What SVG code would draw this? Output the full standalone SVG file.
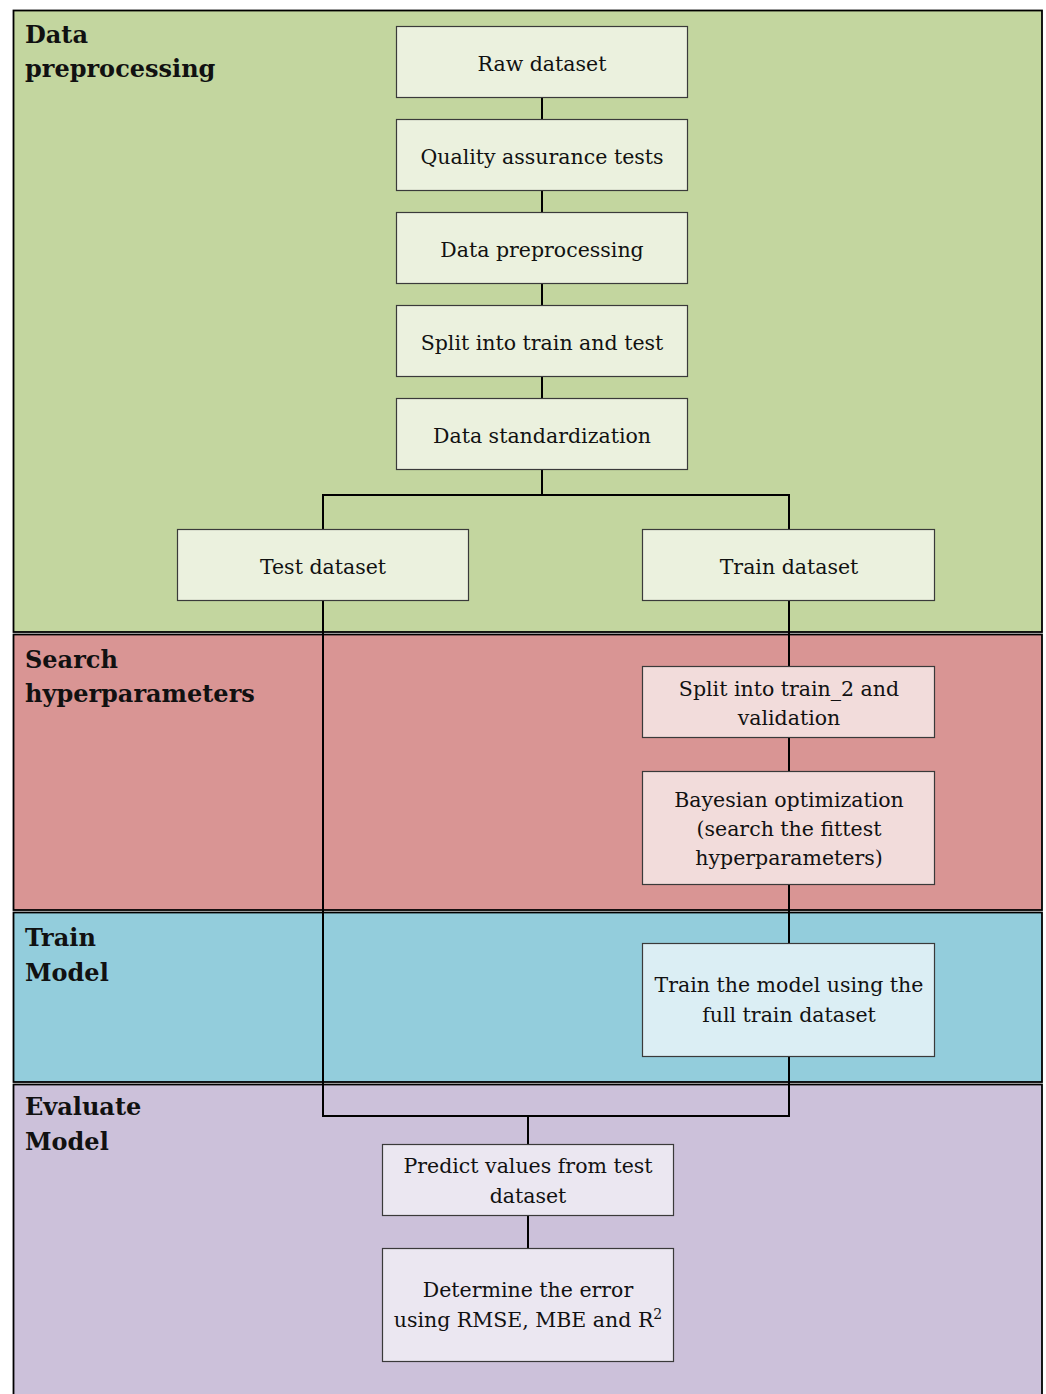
<svg xmlns="http://www.w3.org/2000/svg" width="1046" height="1394" viewBox="0 0 1046 1394">
<style>
.band{stroke:#000;stroke-width:1.8}
.box{stroke:#3a3a3a;stroke-width:1.2}
.t{font-family:"DejaVu Serif","Liberation Serif",serif;font-size:20.5px;fill:#111;text-anchor:middle}
.h{font-family:"DejaVu Serif","Liberation Serif",serif;font-size:24px;font-weight:bold;fill:#111}
.c{stroke:#000;stroke-width:2;fill:none}
</style>
<rect width="1046" height="1394" fill="#fff"/>
<g id="band-data-preprocessing">
<rect class="band" x="13.5" y="10.5" width="1028.5" height="621.5" fill="#c3d69f"/>
<text class="h" x="25" y="43">Data</text>
<text class="h" x="25" y="77">preprocessing</text>
</g>
<g id="band-search-hyperparameters">
<rect class="band" x="13.5" y="634.5" width="1028.5" height="275.5" fill="#d99594"/>
<text class="h" x="25" y="668">Search</text>
<text class="h" x="25" y="702">hyperparameters</text>
</g>
<g id="band-train-model">
<rect class="band" x="13.5" y="912.5" width="1028.5" height="169.5" fill="#93cddc"/>
<text class="h" x="25" y="946">Train</text>
<text class="h" x="25" y="981">Model</text>
</g>
<g id="band-evaluate-model">
<rect class="band" x="13.5" y="1084.5" width="1028.5" height="320" fill="#ccc1da"/>
<text class="h" x="25" y="1115">Evaluate</text>
<text class="h" x="25" y="1150">Model</text>
</g>
<g id="connectors">
<line class="c" x1="542" y1="97" x2="542" y2="119"/>
<line class="c" x1="542" y1="190" x2="542" y2="212"/>
<line class="c" x1="542" y1="283" x2="542" y2="305"/>
<line class="c" x1="542" y1="376" x2="542" y2="398"/>
<polyline class="c" points="542,469 542,495 323,495 323,529"/>
<polyline class="c" points="542,495 789,495 789,529"/>
<line class="c" x1="789" y1="600" x2="789" y2="666"/>
<line class="c" x1="789" y1="737" x2="789" y2="771"/>
<line class="c" x1="789" y1="884" x2="789" y2="943"/>
<polyline class="c" points="323,600 323,1116 789,1116 789,1056"/>
<line class="c" x1="528" y1="1116" x2="528" y2="1144"/>
<line class="c" x1="528" y1="1215" x2="528" y2="1248"/>
</g>
<g id="node-raw-dataset">
<rect class="box" x="396.5" y="26.5" width="291" height="71" fill="#ebf1de"/>
<text class="t" x="542" y="71">Raw dataset</text>
</g>
<g id="node-quality">
<rect class="box" x="396.5" y="119.5" width="291" height="71" fill="#ebf1de"/>
<text class="t" x="542" y="164">Quality assurance tests</text>
</g>
<g id="node-data-preprocessing">
<rect class="box" x="396.5" y="212.5" width="291" height="71" fill="#ebf1de"/>
<text class="t" x="542" y="257">Data preprocessing</text>
</g>
<g id="node-split">
<rect class="box" x="396.5" y="305.5" width="291" height="71" fill="#ebf1de"/>
<text class="t" x="542" y="350">Split into train and test</text>
</g>
<g id="node-standardization">
<rect class="box" x="396.5" y="398.5" width="291" height="71" fill="#ebf1de"/>
<text class="t" x="542" y="443">Data standardization</text>
</g>
<g id="node-test-dataset">
<rect class="box" x="177.5" y="529.5" width="291" height="71" fill="#ebf1de"/>
<text class="t" x="323" y="574">Test dataset</text>
</g>
<g id="node-train-dataset">
<rect class="box" x="642.5" y="529.5" width="292" height="71" fill="#ebf1de"/>
<text class="t" x="789" y="574">Train dataset</text>
</g>
<g id="node-split-validation">
<rect class="box" x="642.5" y="666.5" width="292" height="71" fill="#f2dcdb"/>
<text class="t" x="789" y="696">Split into train_2 and</text>
<text class="t" x="789" y="725">validation</text>
</g>
<g id="node-bayesian">
<rect class="box" x="642.5" y="771.5" width="292" height="113" fill="#f2dcdb"/>
<text class="t" x="789" y="807">Bayesian optimization</text>
<text class="t" x="789" y="836">(search the fittest</text>
<text class="t" x="789" y="865">hyperparameters)</text>
</g>
<g id="node-train-model">
<rect class="box" x="642.5" y="943.5" width="292" height="113" fill="#dbeef4"/>
<text class="t" x="789" y="992">Train the model using the</text>
<text class="t" x="789" y="1022">full train dataset</text>
</g>
<g id="node-predict">
<rect class="box" x="382.5" y="1144.5" width="291" height="71" fill="#ebe7f1"/>
<text class="t" x="528" y="1173">Predict values from test</text>
<text class="t" x="528" y="1203">dataset</text>
</g>
<g id="node-error">
<rect class="box" x="382.5" y="1248.5" width="291" height="113" fill="#ebe7f1"/>
<text class="t" x="528" y="1297">Determine the error</text>
<text class="t" x="528" y="1327">using RMSE, MBE and R<tspan font-size="14" dy="-8">2</tspan></text>
</g>
</svg>
